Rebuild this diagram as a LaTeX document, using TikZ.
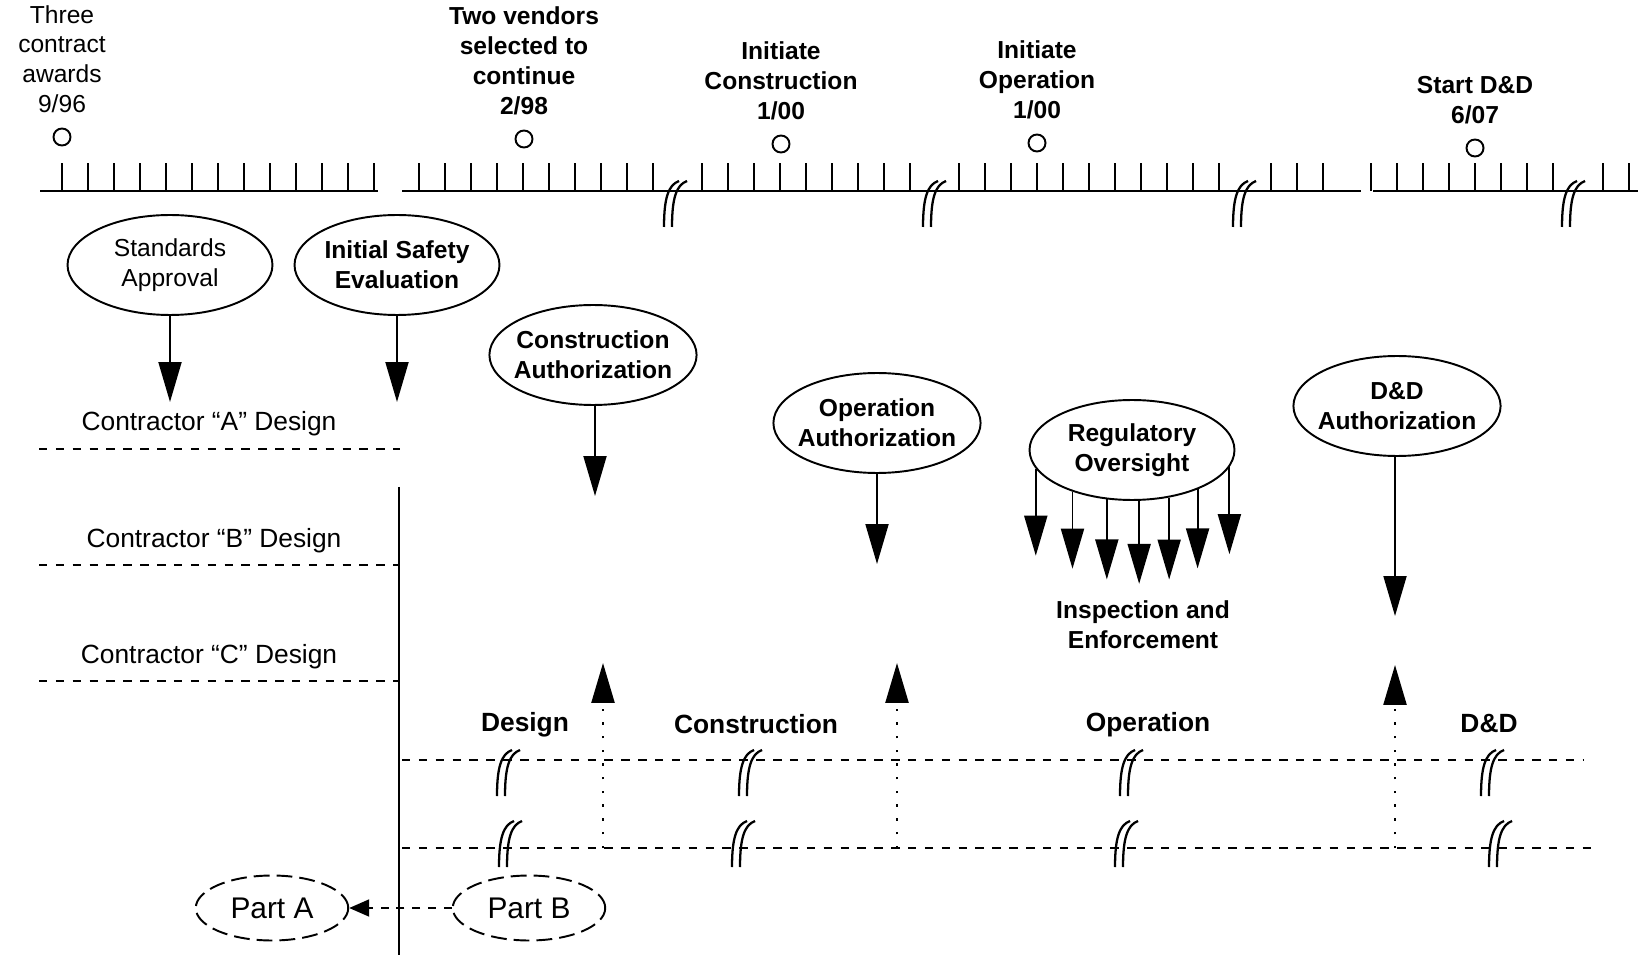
\documentclass[tikz,border=0pt]{standalone}
\usepackage{fontspec}
\setmainfont{Liberation Sans}
\usetikzlibrary{positioning,shapes.geometric,arrows.meta}
\newcommand{\dgfont}{\fontsize{14}{17}\selectfont}
\newcommand{\ctfont}{\fontsize{15}{18}\selectfont}
\newcommand{\phfont}{\fontsize{15}{18}\selectfont}
\newcommand{\ptfont}{\fontsize{17}{20}\selectfont}
\tikzset{
  ev/.style={ellipse, draw=black, line width=1.1pt, minimum width=4.1cm, minimum height=2cm, inner xsep=-0.12cm, inner ysep=0pt, align=center, font=\dgfont\bfseries},
  evr/.style={ev, font=\dgfont},
  pt/.style={ellipse, draw=black, line width=1.1pt, dash pattern=on 9pt off 4pt, minimum width=3.05cm, minimum height=1.3cm, inner sep=0pt, font=\ptfont},
  ms/.style={circle, draw=black, line width=1.1pt, minimum size=0.34cm, inner sep=0pt},
  tx/.style={align=center, inner sep=1pt, font=\dgfont\bfseries},
  txr/.style={tx, font=\dgfont},
  ct/.style={inner sep=1pt, font=\ctfont},
  ph/.style={inner sep=1pt, font=\phfont\bfseries},
  tl/.style={line width=1.1pt},
  dl/.style={line width=1.1pt, dash pattern=on 4.8pt off 4.8pt},
  dn/.style={line width=1.1pt, -{Triangle[width=0.46cm,length=0.8cm]}},
  upa/.style={line width=1.4pt, dash pattern=on 1.4pt off 6.4pt, -{Triangle[width=0.46cm,length=0.8cm]}},
  pa/.style={line width=1.1pt, dash pattern=on 4.5pt off 4.5pt, -{Triangle[width=0.34cm,length=0.4cm]}},
  brk/.pic={
    \draw[line width=1.3pt] (-10,36) .. controls (-10,8) and (-6,-6) .. (5,-10);
    \draw[line width=1.3pt] (-2,36) .. controls (-2,8) and (2,-6) .. (13,-10);
  },
  node distance=2.5mm
}
\begin{document}
\begin{tikzpicture}[x=0.02cm, y=-0.02cm]
\useasboundingbox (0,0) rectangle (1638,955);

% time line
\draw[tl] (40,191) -- (378,191) (402,191) -- (1361,191) (1373,191) -- (1638,191);
\foreach \x in {62,88,...,374} \draw[tl] (\x,191) -- (\x,163);
\foreach \x in {419,445,...,653} \draw[tl] (\x,191) -- (\x,163);
\foreach \x in {702,728,...,910} \draw[tl] (\x,191) -- (\x,163);
\foreach \x in {959,985,...,1219} \draw[tl] (\x,191) -- (\x,163);
\foreach \x in {1271,1297,1323} \draw[tl] (\x,191) -- (\x,163);
\foreach \x in {1371,1397,...,1553} \draw[tl] (\x,191) -- (\x,163);
\foreach \x in {1603,1629} \draw[tl] (\x,191) -- (\x,163);
\foreach \x in {674,933,1243,1572} \pic at (\x,191) {brk};

% milestones
\node[ms] (m1) at (62,137) {};
\node[ms] (m2) at (524,139) {};
\node[ms] (m3) at (781,144) {};
\node[ms] (m4) at (1037,143) {};
\node[ms] (m5) at (1475,148) {};
\node[txr, above=of m1] (t1) {Three\\contract\\awards\\9/96};
\node[tx, above=of m2] (t2) {Two vendors\\selected to\\continue\\2/98};
\node[tx, above=of m3] (t3) {Initiate\\Construction\\1/00};
\node[tx, above=of m4] (t4) {Initiate\\Operation\\1/00};
\node[tx, above=of m5] (t5) {Start D\&D\\6/07};

% approvals
\node[evr] (sa) at (170,265) {Standards\\Approval};
\node[ev] (se) at (397,265) {Initial Safety\\Evaluation};
\node[ev] (ca) at (593,355) {Construction\\Authorization};
\node[ev] (oa) at (877,423) {Operation\\Authorization};
\node[ev] (ro) at (1132,450) {Regulatory\\Oversight};
\node[ev] (da) at (1397,406) {D\&D\\Authorization};

\coordinate (saE) at (170,402);
\coordinate (seE) at (397,402);
\coordinate (caE) at (595,496);
\coordinate (oaE) at (877,564);
\coordinate (daE) at (1395,616);
\draw[dn] (sa) -- (saE);
\draw[dn] (se) -- (seE);
\draw[dn] (ca.south -| caE) -- (caE);
\draw[dn] (oa) -- (oaE);
\draw[dn] (da.south -| daE) -- (daE);
\foreach \a/\l in {191/87, 215/77, 243/80, 278/83, 308/82, 329/79, 350/87}
  \draw[dn] (ro.\a) -- ++(0,\l);
\node[tx] (ie) at (1143,625) {Inspection and\\Enforcement};

% contractors
\node[ct] (cA) at (209,424) {Contractor “A” Design};
\node[ct] (cB) at (214,541) {Contractor “B” Design};
\node[ct] (cC) at (209,657) {Contractor “C” Design};
\draw[dl] (39,449) -- (400,449);
\draw[dl] (39,565) -- (400,565);
\draw[dl] (39,681) -- (400,681);
\draw[tl] (399,487) -- (399,955);

% phases
\node[ph] (pD) at (525,725) {Design};
\node[ph] (pC) at (756,724) {Construction};
\node[ph] (pO) at (1148,725) {Operation};
\node[ph] (pX) at (1489,724) {D\&D};
\draw[dl] (402,760) -- (1583,760);
\draw[dl] (402,848) -- (1598,848);
\foreach \x in {507,749,1130,1491} \pic at (\x,760) {brk};
\foreach \x in {509,742,1125,1499} \pic at (\x,831) {brk};

\coordinate (u1) at (603,848); \coordinate (u1t) at (603,663);
\coordinate (u2) at (897,848); \coordinate (u2t) at (897,663);
\coordinate (u3) at (1395,848); \coordinate (u3t) at (1395,665);
\draw[upa] (u1) -- (u1t);
\draw[upa] (u2) -- (u2t);
\draw[upa] (u3) -- (u3t);

% parts
\node[pt] (partA) at (272,908) {Part A};
\node[pt] (partB) at (529,908) {Part B};
\draw[pa] (partB) -- (partA);
\end{tikzpicture}
\end{document}
